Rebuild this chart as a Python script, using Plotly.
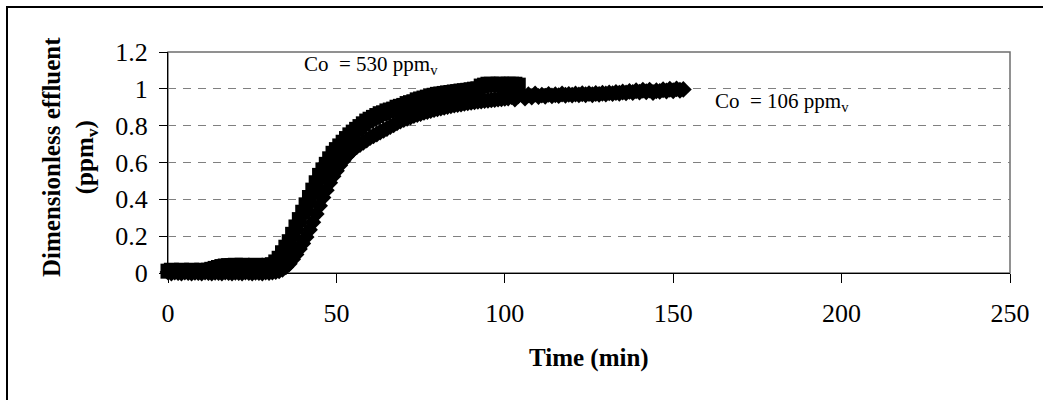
import plotly.graph_objects as go

# ---- data ----
time_530 = [0, 1, 2, 3, 4, 5, 6, 7, 8, 9, 10, 11, 12, 13, 14, 15, 16, 17, 18, 19,
            20, 21, 22, 23, 24, 25, 26, 27, 28, 29, 30, 31, 32, 33, 34, 35, 36, 37, 38, 39,
            40, 41, 42, 43, 44, 45, 46, 47, 48, 49, 50, 51, 52, 53, 54, 55, 56, 57, 58, 59,
            60, 61, 62, 63, 64, 65, 66, 67, 68, 69, 70, 71, 72, 73, 74, 75, 76, 77, 78, 79,
            80, 81, 82, 83, 84, 85, 86, 87, 88, 89, 90, 91, 92, 93, 94, 95, 96, 97, 98, 99,
            100, 101, 102, 103, 104]
conc_530 = [0.010, 0.015, 0.010, 0.012, 0.015, 0.010, 0.012, 0.015, 0.012, 0.010,
            0.015, 0.012, 0.015, 0.020, 0.025, 0.030, 0.035, 0.038, 0.040, 0.040,
            0.042, 0.040, 0.042, 0.040, 0.038, 0.040, 0.042, 0.040, 0.038, 0.040,
            0.042, 0.045, 0.060, 0.080, 0.110, 0.140, 0.170, 0.210, 0.250, 0.290,
            0.330, 0.370, 0.410, 0.450, 0.490, 0.530, 0.560, 0.590, 0.620, 0.650,
            0.670, 0.690, 0.710, 0.730, 0.750, 0.765, 0.780, 0.795, 0.810, 0.825,
            0.835, 0.845, 0.855, 0.865, 0.870, 0.880, 0.885, 0.890, 0.900, 0.905,
            0.910, 0.920, 0.925, 0.930, 0.940, 0.945, 0.950, 0.955, 0.960, 0.965,
            0.970, 0.972, 0.975, 0.978, 0.980, 0.983, 0.985, 0.988, 0.990, 0.992,
            0.995, 0.998, 1.000, 1.015, 1.020, 1.025, 1.025, 1.020, 1.025, 1.025,
            1.020, 1.025, 1.025, 1.025, 1.020]

time_106 = [0, 1, 2, 3, 4, 5, 6, 7, 8, 9, 10, 11, 12, 13, 14, 15, 16, 17, 18, 19,
            20, 21, 22, 23, 24, 25, 26, 27, 28, 29, 30, 31, 32, 33, 34, 35, 36, 37, 38, 39,
            40, 41, 42, 43, 44, 45, 46, 47, 48, 49, 50, 51, 52, 53, 54, 55, 56, 57, 58, 59,
            60, 61, 62, 63, 64, 65, 66, 67, 68, 69, 70, 71, 72, 73, 74, 75, 76, 77, 78, 79,
            80, 81, 82, 83, 84, 85, 86, 87, 88, 89, 90, 91, 92, 93, 94, 95, 96, 97, 98, 99,
            100, 101, 102, 103, 104, 105, 106, 107, 108, 109, 110, 111, 112, 113, 114, 115,
            116, 117, 118, 119, 120, 121, 122, 123, 124, 125, 126, 127, 128, 129, 130, 131,
            132, 133, 134, 135, 136, 137, 138, 139, 140, 141, 142, 143, 144, 145, 146, 147,
            148, 149, 150, 151, 152, 153]
conc_106 = [0.005, 0.000, 0.005, 0.002, 0.000, 0.005, 0.003, 0.000, 0.004, 0.002,
            0.000, 0.005, 0.002, 0.000, 0.004, 0.003, 0.000, 0.005, 0.002, 0.000,
            0.004, 0.002, 0.000, 0.005, 0.003, 0.000, 0.004, 0.002, 0.000, 0.005,
            0.003, 0.005, 0.008, 0.012, 0.020, 0.033, 0.050, 0.075, 0.100, 0.130,
            0.160, 0.195, 0.235, 0.275, 0.320, 0.365, 0.410, 0.450, 0.490, 0.525,
            0.555, 0.585, 0.610, 0.632, 0.652, 0.670, 0.685, 0.698, 0.710, 0.722,
            0.735, 0.745, 0.755, 0.765, 0.775, 0.785, 0.795, 0.805, 0.815, 0.825,
            0.833, 0.840, 0.847, 0.855, 0.860, 0.866, 0.872, 0.877, 0.882, 0.887,
            0.892, 0.896, 0.900, 0.904, 0.908, 0.912, 0.915, 0.918, 0.921, 0.924,
            0.927, 0.930, 0.932, 0.934, 0.936, 0.938, 0.940, 0.942, 0.944, 0.946,
            0.948, 0.950, 0.958, 0.945, 0.962, 0.970, 0.950, 0.968, 0.955, 0.972,
            0.958, 0.966, 0.960, 0.970, 0.962, 0.968, 0.963, 0.972, 0.965, 0.970,
            0.966, 0.972, 0.967, 0.973, 0.968, 0.974, 0.968, 0.975, 0.970, 0.976,
            0.972, 0.978, 0.974, 0.980, 0.976, 0.983, 0.978, 0.986, 0.980, 0.990,
            0.982, 0.992, 0.984, 0.993, 0.980, 0.990, 0.986, 0.995, 0.988, 0.998,
            0.990, 1.000, 0.992, 0.997]

x_ticks = [0, 50, 100, 150, 200, 250]
y_ticks = [0, 0.2, 0.4, 0.6, 0.8, 1.0, 1.2]
y_tick_text = ["0", "0.2", "0.4", "0.6", "0.8", "1", "1.2"]

FONT = "Liberation Serif, Times New Roman, serif"

# pixel layout helpers (plot area: x 168..1010, y 52..273)
L, R, T, B = 168, 1010, 52, 273
W, H = 1043, 400
def px(x):
    return (x - L) / (R - L)
def py(y):
    return (B - y) / (B - T)

fig = go.Figure()
fig.add_trace(go.Scatter(
    x=time_530, y=conc_530, mode="markers", name="Co = 530 ppmv",
    marker=dict(symbol="square", size=15, color="black", line=dict(width=0)),
    cliponaxis=False, showlegend=False))
fig.add_trace(go.Scatter(
    x=time_106, y=conc_106, mode="markers", name="Co = 106 ppmv",
    marker=dict(symbol="diamond", size=13, color="black", line=dict(width=0)),
    cliponaxis=False, showlegend=False))

fig.update_layout(
    width=W, height=H,
    margin=dict(l=L, r=W - R, t=T, b=H - B),
    paper_bgcolor="white", plot_bgcolor="white",
    font=dict(family=FONT, color="black"),
    xaxis=dict(range=[0, 250], tickvals=x_ticks, ticks="outside", ticklen=9,
               tickcolor="black", showline=True, linecolor="black", linewidth=1,
               showgrid=False, zeroline=False, ticklabelstandoff=8,
               tickfont=dict(size=26, family=FONT)),
    yaxis=dict(range=[0, 1.2], tickvals=y_ticks, ticktext=y_tick_text,
               ticks="outside", ticklen=8, ticklabelstandoff=6,
               tickcolor="black", showline=True, linecolor="black", linewidth=1,
               showgrid=True, gridcolor="#808080", gridwidth=1, griddash="8px,7px",
               zeroline=False, tickfont=dict(size=26, family=FONT)),
    shapes=[
        dict(type="rect", xref="paper", yref="paper", x0=0, x1=1, y0=0, y1=1,
             line=dict(color="#6e6e6e", width=1.5), layer="below"),
        dict(type="rect", xref="paper", yref="paper",
             x0=px(7), x1=px(1060), y0=py(420), y1=py(7),
             line=dict(color="black", width=2), layer="below"),
    ],
    annotations=[
        dict(text="<b>Dimensionless effluent<br>(ppm<sub>v</sub>)</b>", textangle=-90,
             xref="paper", yref="paper", x=px(70), y=py(157), xanchor="center", yanchor="middle",
             showarrow=False, font=dict(size=25, family=FONT, color="black")),
        dict(text="<b>Time (min)</b>", xref="paper", yref="paper", x=px(589), y=py(358),
             xanchor="center", yanchor="middle", showarrow=False,
             font=dict(size=25, family=FONT, color="black")),
        dict(text="Co  = 530 ppm<sub>v</sub>", xref="paper", yref="paper", x=px(302), y=py(65),
             xanchor="left", yanchor="middle", showarrow=False,
             font=dict(size=21, family=FONT, color="black")),
        dict(text="Co  = 106 ppm<sub>v</sub>", xref="paper", yref="paper", x=px(713), y=py(102),
             xanchor="left", yanchor="middle", showarrow=False,
             font=dict(size=21, family=FONT, color="black")),
    ],
)

fig.write_html("out.html")
